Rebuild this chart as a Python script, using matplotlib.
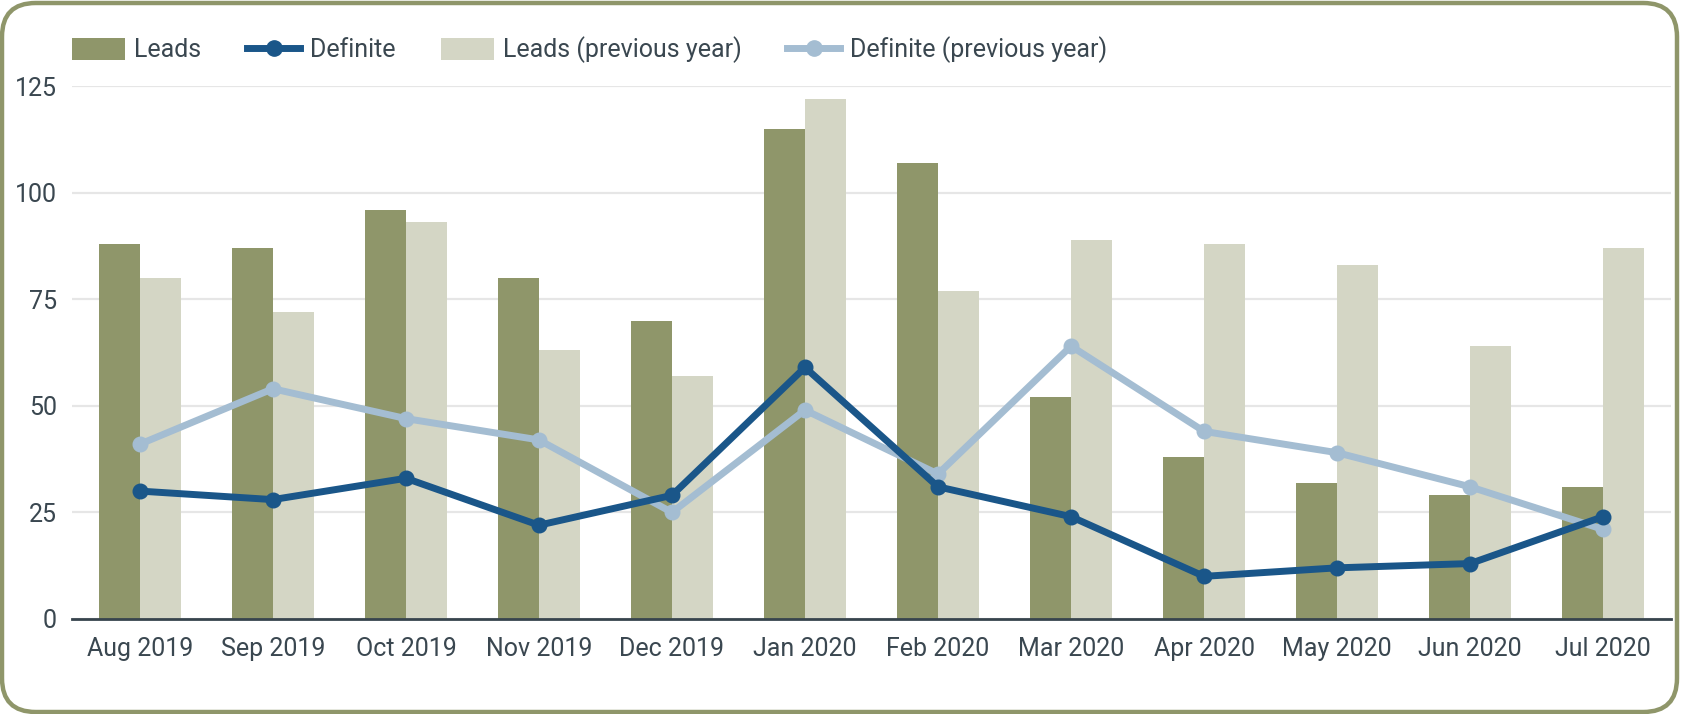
import matplotlib
matplotlib.use("Agg")
import matplotlib.pyplot as plt
import numpy as np
from matplotlib.patches import FancyBboxPatch
from matplotlib.lines import Line2D
from matplotlib.patches import Patch

months = ["Aug 2019", "Sep 2019", "Oct 2019", "Nov 2019", "Dec 2019", "Jan 2020",
          "Feb 2020", "Mar 2020", "Apr 2020", "May 2020", "Jun 2020", "Jul 2020"]
leads = [88, 87, 96, 80, 70, 115, 107, 52, 38, 32, 29, 31]
leads_prev = [80, 72, 93, 63, 57, 122, 77, 89, 88, 83, 64, 87]
definite = [30, 28, 33, 22, 29, 59, 31, 24, 10, 12, 13, 24]
definite_prev = [41, 54, 47, 42, 25, 49, 34, 64, 44, 39, 31, 21]
yticks = [0, 25, 50, 75, 100, 125]

C_LEADS = "#8f966a"
C_PREV = "#d4d6c5"
C_DEF = "#1a5689"
C_DEFP = "#a4bdd2"
C_TEXT = "#3a4750"
FS = 18

plt.rcParams['font.family'] = ['Roboto', 'DejaVu Sans']

W, H = 1687, 714
fig = plt.figure(figsize=(W / 100, H / 100), dpi=100)
fig.patch.set_facecolor("white")

# rounded border
border = FancyBboxPatch((2 / W, 2 / H), (1677 - 2) / W, (711 - 2) / H,
                        boxstyle="round,pad=0,rounding_size=0.02",
                        transform=fig.transFigure, facecolor="white",
                        edgecolor=C_LEADS, linewidth=3.2, zorder=-10,
                        mutation_aspect=W / H)
fig.patches.append(border)

ax = fig.add_axes([72 / W, (H - 619) / H, (1671 - 72) / W, (619 - 86) / H])
ax.set_facecolor("none")

x = np.arange(len(months))
bw = 0.305
ax.bar(x - 0.155, leads, width=bw, color=C_LEADS, zorder=2)
ax.bar(x + 0.155, leads_prev, width=bw, color=C_PREV, zorder=2)
ax.plot(x, definite_prev, color=C_DEFP, lw=5, marker="o", ms=10.5, zorder=3, clip_on=False)
ax.plot(x, definite, color=C_DEF, lw=5, marker="o", ms=10.5, zorder=4, clip_on=False)

ax.set_xlim(-0.51, 11.51)
ax.set_ylim(0, 125)
ax.set_yticks(yticks)
ax.set_yticklabels([str(v) for v in yticks])
ax.set_xticks(x)
ax.set_xticklabels(months)
ax.grid(axis="y", color="#e6e6e6", lw=1.6, zorder=0)
ax.set_axisbelow(True)
for s in ["top", "right", "left"]:
    ax.spines[s].set_visible(False)
ax.spines["bottom"].set_color("#37444d")
ax.spines["bottom"].set_linewidth(2)
ax.spines["bottom"].set_zorder(5)
ax.tick_params(axis="both", length=0, labelsize=FS, colors=C_TEXT)
ax.tick_params(axis="y", pad=10.8)
ax.tick_params(axis="x", pad=13.3)

handles = [
    Patch(facecolor=C_LEADS, edgecolor="none"),
    Line2D([0], [0], color=C_DEF, lw=5, marker="o", ms=11),
    Patch(facecolor=C_PREV, edgecolor="none"),
    Line2D([0], [0], color=C_DEFP, lw=5, marker="o", ms=11),
]
labels = ["Leads", "Definite", "Leads (previous year)", "Definite (previous year)"]
leg = fig.legend(handles, labels, loc="center left", bbox_to_anchor=(72 / W, (H - 50) / H),
                 ncol=4, frameon=False, fontsize=FS, handlelength=2.12, handleheight=1.0,
                 handletextpad=0.38, columnspacing=1.82, borderpad=0, borderaxespad=0)
for t in leg.get_texts():
    t.set_color(C_TEXT)

fig.savefig("out.png", dpi=100)
